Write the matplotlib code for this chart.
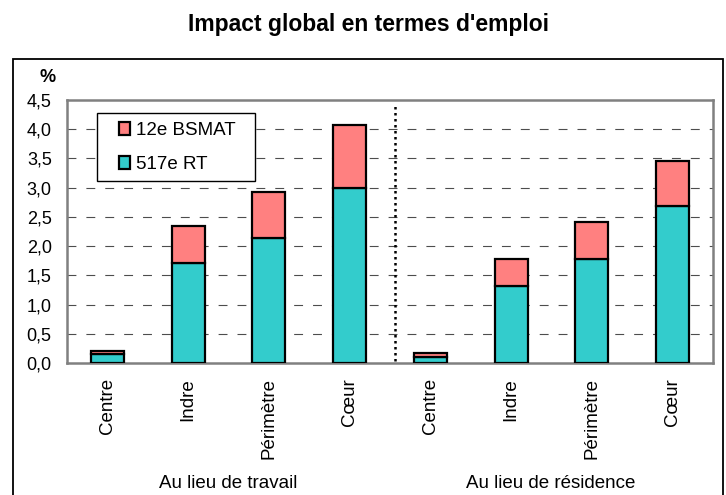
import numpy as np
import matplotlib
matplotlib.use("Agg")
import matplotlib.pyplot as plt
from matplotlib.patches import Rectangle

plt.rcParams["font.family"] = ["Liberation Sans", "DejaVu Sans"]

categories = ["Centre", "Indre", "Périmètre", "Cœur",
              "Centre", "Indre", "Périmètre", "Cœur"]
groups = ["Au lieu de travail", "Au lieu de résidence"]
rt_517 = [0.15, 1.71, 2.14, 3.00, 0.11, 1.31, 1.78, 2.68]
totals = [0.21, 2.35, 2.93, 4.07, 0.165, 1.78, 2.41, 3.46]
bsmat_12 = [t - r for t, r in zip(totals, rt_517)]
yticks = [0.0, 0.5, 1.0, 1.5, 2.0, 2.5, 3.0, 3.5, 4.0, 4.5]

TEAL = "#33CCCC"
PINK = "#FF8080"

fig = plt.figure(figsize=(7.26, 4.95), dpi=100)
ax = fig.add_axes([67 / 726, 1 - 363 / 495, 646 / 726, 263 / 495])

x = np.arange(len(categories))
ax.bar(x, rt_517, width=0.41, color=TEAL, edgecolor="black", linewidth=1.6,
       label="517e RT", zorder=3)
ax.bar(x, bsmat_12, width=0.41, bottom=rt_517, color=PINK, edgecolor="black",
       linewidth=1.6, label="12e BSMAT", zorder=3)

ax.set_xlim(-0.5, len(categories) - 0.5)
ax.set_ylim(0, 4.5)
ax.set_yticks(yticks)
ax.set_yticklabels([f"{v:.1f}".replace(".", ",") for v in yticks], fontsize=13)
ax.set_xticks(x)
ax.set_xticklabels(categories, rotation=90, fontsize=13.5, va="top")
ax.tick_params(axis="x", length=0, pad=11)
ax.tick_params(axis="y", length=0, pad=11)

for v in yticks[1:-1]:
    ax.axhline(v, color="0.3", linestyle=(0, (8, 9)), linewidth=0.8, zorder=1)
ax.plot([3.56, 3.56], [0.04, 4.45], color="black", linestyle=(0, (1, 1.4)),
        linewidth=1.8, zorder=2)

for s in ax.spines.values():
    s.set_color("0.5")
    s.set_linewidth(1.8)

# legend box
ax.add_patch(Rectangle((30 / 646, (363 - 181) / 263), 158 / 646, 68 / 263,
                       transform=ax.transAxes, facecolor="white",
                       edgecolor="black", linewidth=1.0, zorder=4))
handles, labels = ax.get_legend_handles_labels()
leg = ax.legend(handles[::-1], labels[::-1], loc="upper left",
                bbox_to_anchor=(52 / 646, (363 - 122) / 263), fontsize=13.5,
                frameon=False, handlelength=0.6, handleheight=0.72,
                handletextpad=0.28, labelspacing=0.9, borderpad=0,
                borderaxespad=0)
leg.set_zorder(5)

ax.text(-19 / 646, (363 - 78) / 263, "%", transform=ax.transAxes,
        fontsize=13, fontweight="bold", ha="center", va="center")

fig.text(369 / 726, 1 - 25 / 495, "Impact global en termes d'emploi",
         ha="center", va="center", fontsize=16.5, fontweight="bold")

fig.text(228 / 726, 1 - 483 / 495, groups[0], ha="center", va="center",
         fontsize=13.5)
fig.text(551 / 726, 1 - 483 / 495, groups[1], ha="center", va="center",
         fontsize=13.5)

fig.patches.append(Rectangle((12.7 / 726, -0.02), (723 - 12.7) / 726,
                             1.02 - 59 / 495, transform=fig.transFigure,
                             fill=False, edgecolor="black", linewidth=1.3))

fig.savefig("out.png", dpi=100)
